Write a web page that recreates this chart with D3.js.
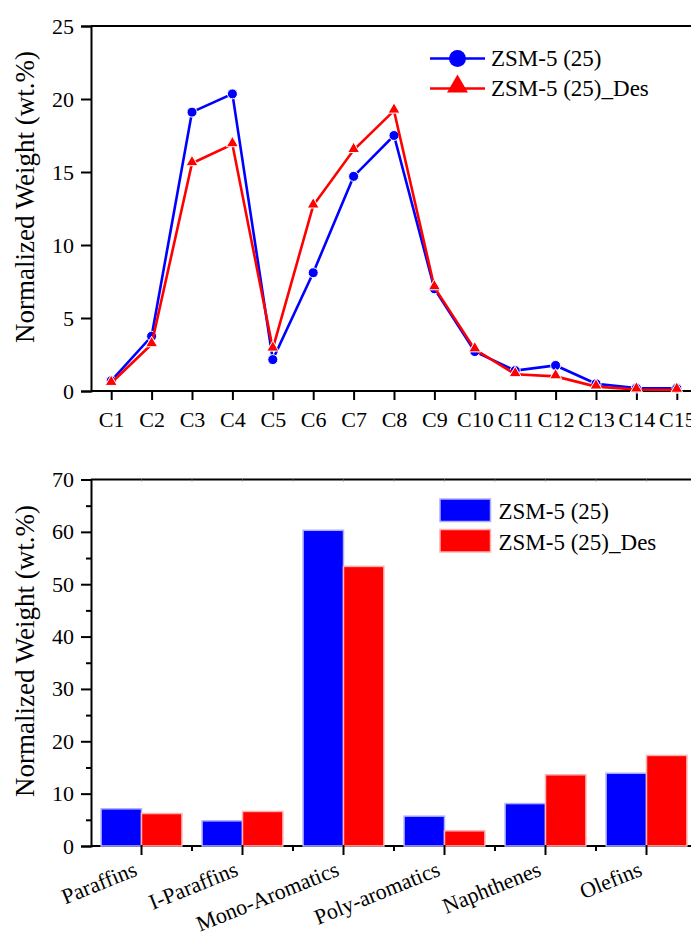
<!DOCTYPE html>
<html>
<head>
<meta charset="utf-8">
<script src="https://cdn.jsdelivr.net/npm/d3@7"></script>
</head>
<body style="margin:0">
<script>
// carbon number distribution (top panel)
var carbons = ["C1","C2","C3","C4","C5","C6","C7","C8","C9","C10","C11","C12","C13","C14","C15"]
var zsm = [0.7, 3.75, 19.1, 20.35, 2.15, 8.1, 14.7, 17.5, 7.0, 2.7, 1.4, 1.75, 0.5, 0.2, 0.18]
var zsmDes = [0.55, 3.2, 15.6, 16.9, 2.9, 12.7, 16.5, 19.2, 7.1, 2.85, 1.15, 1.0, 0.3, 0.1, 0.08]
var yTicksTop = [0, 5, 10, 15, 20, 25]

// hydrocarbon groups (bottom panel)
var groups = ["Paraffins","I-Paraffins","Mono-Aromatics","Poly-aromatics","Naphthenes","Olefins"]
var groupZsm = [7.1, 4.8, 60.3, 5.7, 8.1, 13.9]
var groupZsmDes = [6.2, 6.6, 53.4, 2.9, 13.6, 17.3]
var yTicksBottom = [0, 10, 20, 30, 40, 50, 60, 70]

var seriesNames = ["ZSM-5 (25)", "ZSM-5 (25)_Des"]
var colors = ["#0000ff", "#ff0000"]
var edgeColors = ["#aeaeff", "#ffb0b0"]

var FONT = "'Liberation Serif', monospace"
var W = 691, H = 938
var left = 91, right = 697

var svg = d3.select("body").append("svg")
  .attr("width", W).attr("height", H)

function serif(sel, size){
  return sel.style("font-family", FONT).style("font-size", size + "px")
}

// ---------- top panel ----------
var x1 = d3.scaleLinear().domain([0.5, 15.5]).range([left, right])
var y1 = d3.scaleLinear().domain([0, 25]).range([391, 26])

var topG = svg.append("g")

topG.append("line").attr("x1", left).attr("x2", W).attr("y1", y1(25)).attr("y2", y1(25))
  .attr("stroke", "#000").attr("stroke-width", 2)

var yAxis1 = topG.append("g").attr("transform", "translate(" + left + ",0)")
  .call(d3.axisLeft(y1).tickValues(yTicksTop).tickSize(10).tickPadding(7))
var xAxis1 = topG.append("g").attr("transform", "translate(0," + y1(0) + ")")
  .call(d3.axisBottom(x1).tickValues(d3.range(1, 16)).tickSize(9).tickPadding(11)
    .tickFormat(function(d){ return carbons[d-1] }))

;[yAxis1, xAxis1].forEach(function(a){
  a.attr("font-family", null).attr("font-size", null)
  a.select(".domain").attr("stroke-width", 2)
  a.selectAll(".tick line").attr("stroke-width", 2)
  serif(a.selectAll("text"), 22).attr("fill", "#000")
})
xAxis1.select(".domain").attr("d", "M" + left + ",0H" + W)

serif(topG.append("text"), 27)
  .attr("transform", "translate(34,197) rotate(-90)")
  .attr("text-anchor", "middle")
  .text("Normalized Weight (wt.%)")

var lineGen = d3.line()
  .x(function(d, i){ return x1(i + 1) })
  .y(function(d){ return y1(d) })

var triangle = d3.symbol().type(d3.symbolTriangle)

;[zsm, zsmDes].forEach(function(series, s){
  topG.append("path").datum(series)
    .attr("d", lineGen)
    .attr("fill", "none")
    .attr("stroke", colors[s])
    .attr("stroke-width", 2.6)

  var marks = topG.selectAll(".m" + s).data(series).enter()
  if (s == 0) {
    marks.append("circle")
      .attr("cx", function(d, i){ return x1(i + 1) })
      .attr("cy", function(d){ return y1(d) })
      .attr("r", 5)
      .attr("fill", colors[s]).attr("stroke", "#fff").attr("stroke-width", 1)
  } else {
    marks.append("path")
      .attr("d", triangle.size(62))
      .attr("transform", function(d, i){ return "translate(" + x1(i + 1) + "," + (y1(d) - 1) + ")" })
      .attr("fill", colors[s]).attr("stroke", "#fff").attr("stroke-width", 1)
  }
})

// legend (top)
var legTop = [58.5, 88.5]
seriesNames.forEach(function(name, s){
  var ly = legTop[s]
  topG.append("line").attr("x1", 430).attr("x2", 485).attr("y1", ly).attr("y2", ly)
    .attr("stroke", colors[s]).attr("stroke-width", 2.6)
  if (s == 0) {
    topG.append("circle").attr("cx", 457.5).attr("cy", ly).attr("r", 8.5).attr("fill", colors[s])
  } else {
    topG.append("path").attr("d", triangle.size(190))
      .attr("transform", "translate(457.5," + (ly - 2) + ")").attr("fill", colors[s])
  }
  serif(topG.append("text"), 23).attr("x", 491).attr("y", ly + 7.5).text(name)
})

// ---------- bottom panel ----------
var x2 = d3.scaleBand().domain(groups).range([left, right])
var xs = d3.scaleBand().domain([0, 1]).range([0, x2.bandwidth()]).paddingOuter(0.25)
var y2 = d3.scaleLinear().domain([0, 70]).range([846, 479.5])

var bot = svg.append("g")

bot.append("line").attr("x1", left).attr("x2", W).attr("y1", y2(70)).attr("y2", y2(70))
  .attr("stroke", "#000").attr("stroke-width", 2)

// small inward ticks on top edge
var topTicks = groups.map(function(g){ return x2(g) + x2.bandwidth() / 2 })
  .concat(groups.slice(1).map(function(g){ return x2(g) }))
bot.selectAll(".tt").data(topTicks).enter().append("line")
  .attr("x1", function(d){ return d }).attr("x2", function(d){ return d })
  .attr("y1", y2(70)).attr("y2", y2(70) + 2)
  .attr("stroke", "#888").attr("stroke-width", 1)

var yAxis2 = bot.append("g").attr("transform", "translate(" + left + ",0)")
  .call(d3.axisLeft(y2).tickValues(yTicksBottom).tickSize(10).tickPadding(7))
bot.append("g").attr("transform", "translate(" + left + ",0)")
  .call(d3.axisLeft(y2).tickValues(d3.range(5, 70, 10)).tickSize(5).tickFormat(""))
  .call(function(g){ g.select(".domain").remove(); g.selectAll("line").attr("stroke-width", 2) })

yAxis2.attr("font-family", null).attr("font-size", null)
yAxis2.select(".domain").attr("stroke-width", 2)
yAxis2.selectAll(".tick line").attr("stroke-width", 2)
serif(yAxis2.selectAll("text"), 22).attr("fill", "#000")

// x axis line + ticks
bot.append("line").attr("x1", left).attr("x2", W).attr("y1", y2(0)).attr("y2", y2(0))
  .attr("stroke", "#000").attr("stroke-width", 2)
bot.selectAll(".minor").data(groups.slice(1)).enter().append("line")
  .attr("x1", function(d){ return x2(d) }).attr("x2", function(d){ return x2(d) })
  .attr("y1", y2(0)).attr("y2", y2(0) + 5)
  .attr("stroke", "#000").attr("stroke-width", 2)

// bars
var barData = []
groups.forEach(function(g, i){
  barData.push({g: g, s: 0, v: groupZsm[i]})
  barData.push({g: g, s: 1, v: groupZsmDes[i]})
})
bot.selectAll(".bar").data(barData).enter().append("rect")
  .attr("x", function(d){ return x2(d.g) + xs(d.s) })
  .attr("width", xs.bandwidth())
  .attr("y", function(d){ return y2(d.v) })
  .attr("height", function(d){ return y2(0) - y2(d.v) })
  .attr("fill", function(d){ return colors[d.s] })
  .attr("stroke", function(d){ return edgeColors[d.s] })
  .attr("stroke-width", 1.5)

bot.selectAll(".major").data(groups).enter().append("line")
  .attr("x1", function(d){ return x2(d) + x2.bandwidth() / 2 })
  .attr("x2", function(d){ return x2(d) + x2.bandwidth() / 2 })
  .attr("y1", y2(0) - 1).attr("y2", y2(0) + 9)
  .attr("stroke", "#000").attr("stroke-width", 2)

serif(bot.selectAll(".xlab").data(groups).enter().append("text"), 22)
  .attr("transform", function(d){
    return "translate(" + (x2(d) + x2.bandwidth() / 2 - 3) + ",875) rotate(-22)"
  })
  .attr("text-anchor", "end")
  .text(function(d){ return d })

serif(bot.append("text"), 27)
  .attr("transform", "translate(34,651) rotate(-90)")
  .attr("text-anchor", "middle")
  .text("Normalized Weight (wt.%)")

// legend (bottom)
var legBot = [499, 529.5]
seriesNames.forEach(function(name, s){
  bot.append("rect").attr("x", 440).attr("y", legBot[s]).attr("width", 50.5).attr("height", 22.5)
    .attr("fill", colors[s]).attr("stroke", edgeColors[s]).attr("stroke-width", 1.5)
  serif(bot.append("text"), 23).attr("x", 498.5).attr("y", legBot[s] + 20).text(name)
})
</script>
</body>
</html>
